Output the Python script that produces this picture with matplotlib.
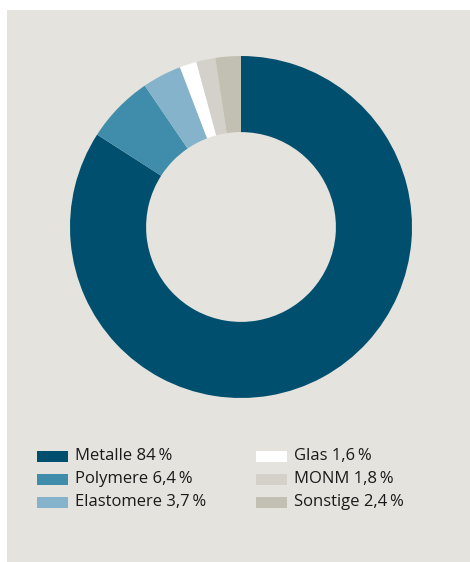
# Donut chart: Werkstoffanteile
import matplotlib.pyplot as plt
from matplotlib.patches import Rectangle

plt.rcParams['font.family'] = ['Open Sans', 'DejaVu Sans']

labels = ['Metalle', 'Polymere', 'Elastomere', 'Glas', 'MONM', 'Sonstige']
values = [84, 6.4, 3.7, 1.6, 1.8, 2.4]
value_text = ['84', '6,4', '3,7', '1,6', '1,8', '2,4']
colors = ['#004f6e', '#3f8dab', '#85b3cb', '#ffffff', '#d3d1ca', '#c2c0b3']

W, H = 470, 562
fig = plt.figure(figsize=(W / 100, H / 100), dpi=100)
fig.patch.set_facecolor('white')

# grey panel behind everything
fig.add_artist(Rectangle((7 / W, 0), 1 - 7 / W, (H - 10) / H,
                         transform=fig.transFigure, facecolor='#e4e3dd',
                         edgecolor='none', zorder=-5))

# donut
cx, cy, r = 241, H - 227, 171
ax = fig.add_axes([(cx - r) / W, (cy - r) / H, 2 * r / W, 2 * r / H])
ax.set_zorder(2)
ax.pie(values, colors=colors, startangle=90, counterclock=False, radius=1,
       wedgeprops=dict(width=0.445, edgecolor='none'))
ax.set_xlim(-1, 1)
ax.set_ylim(-1, 1)
ax.set_aspect('equal')
ax.axis('off')

# legend, two columns of three
col_x = [37, 256]
row_y = [456, 479, 502]
for i, (lab, vt, c) in enumerate(zip(labels, value_text, colors)):
    x = col_x[i // 3]
    y = row_y[i % 3]
    fig.add_artist(Rectangle((x / W, (H - y - 5.5) / H), 31 / W, 11 / H,
                             transform=fig.transFigure, facecolor=c,
                             edgecolor='none'))
    fig.text((x + 38) / W, (H - y) / H, f'{lab} {vt}\u2009%', fontsize=12,
             color='#1a1a1a', va='center', ha='left')

fig.savefig('out.png', dpi=100)
